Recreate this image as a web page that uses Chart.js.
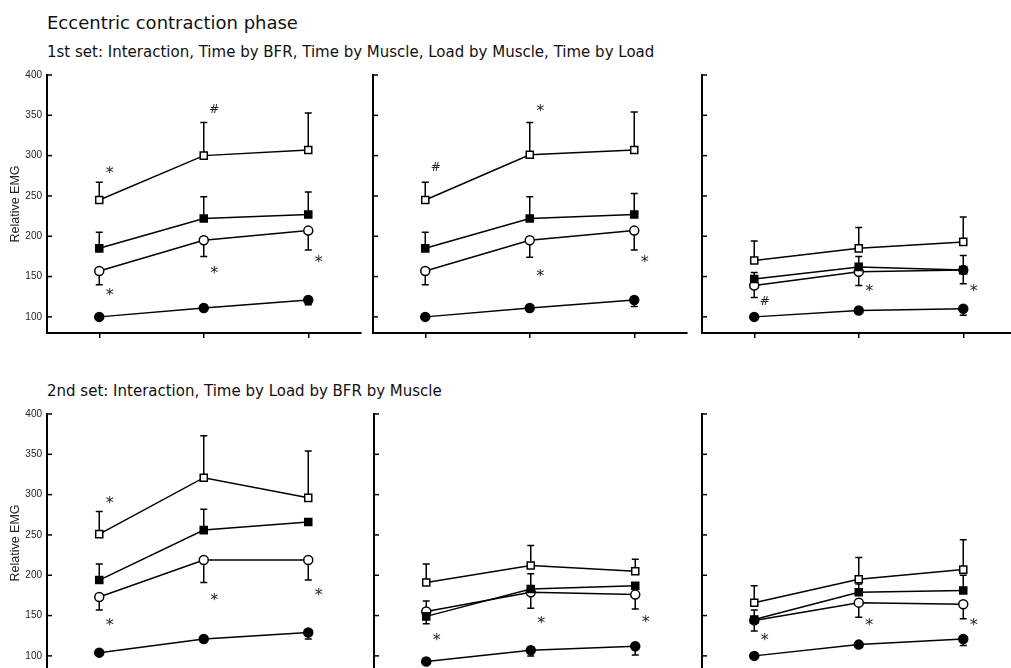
<!DOCTYPE html>
<html lang="en">
<head>
  <meta charset="UTF-8">
  <title>Eccentric contraction phase</title>
  <style>
    * {
      margin: 0;
      padding: 0;
      box-sizing: border-box;
    }

    html, body {
      width: 1011px;
      height: 668px;
      overflow: hidden;
      background: #fff;
    }

    body {
      position: relative;
      font-family: "DejaVu Sans", sans-serif;
      color: #111;
    }

    .title {
      position: absolute;
      left: 47px;
      top: 14px;
      font-size: 18px;
      line-height: 18px;
    }

    .sub {
      position: absolute;
      left: 47px;
      font-size: 15px;
      line-height: 15px;
    }

    canvas {
      position: absolute;
    }
  </style>
</head>
<body>
  <div class="title">Eccentric contraction phase</div>
  <div class="sub" style="top:45px">1st set: Interaction, Time by BFR, Time by Muscle, Load by Muscle, Time by Load</div>
  <div class="sub" style="top:384px">2nd set: Interaction, Time by Load by BFR by Muscle</div>

  <canvas id="p1"></canvas>
  <canvas id="p2"></canvas>
  <canvas id="p3"></canvas>
  <canvas id="p4"></canvas>
  <canvas id="p5"></canvas>
  <canvas id="p6"></canvas>

  <script src="https://cdn.jsdelivr.net/npm/chart.js"></script>
  <script>
    // time points (x labels are not printed in the figure)
    const timePoints = ['1', '2', '3'];
    const yTicks = [100, 150, 200, 250, 300, 350, 400];

    // 1st set, left panel
    const s1a_openSq = [245, 300, 307];
    const s1a_openSqSd = [22, 41, 46];
    const s1a_fillSq = [185, 222, 227];
    const s1a_fillSqSd = [20, 27, 28];
    const s1a_openCi = [157, 195, 207];
    const s1a_openCiSd = [17, 20, 24];
    const s1a_fillCi = [100, 111, 121];
    const s1a_fillCiSd = [0, 3, 6];

    // 1st set, middle panel
    const s1b_openSq = [245, 301, 307];
    const s1b_openSqSd = [22, 40, 47];
    const s1b_fillSq = [185, 222, 227];
    const s1b_fillSqSd = [20, 27, 26];
    const s1b_openCi = [157, 195, 207];
    const s1b_openCiSd = [17, 21, 24];
    const s1b_fillCi = [100, 111, 121];
    const s1b_fillCiSd = [0, 3, 8];

    // 1st set, right panel
    const s1c_openSq = [170, 185, 193];
    const s1c_openSqSd = [24, 26, 31];
    const s1c_fillSq = [147, 162, 158];
    const s1c_fillSqSd = [8, 13, 18];
    const s1c_openCi = [139, 156, 158];
    const s1c_openCiSd = [15, 17, 17];
    const s1c_fillCi = [100, 108, 110];
    const s1c_fillCiSd = [0, 2, 8];

    // 2nd set, left panel
    const s2a_openSq = [251, 321, 296];
    const s2a_openSqSd = [28, 52, 58];
    const s2a_fillSq = [194, 256, 266];
    const s2a_fillSqSd = [20, 26, 0];
    const s2a_openCi = [173, 219, 219];
    const s2a_openCiSd = [16, 28, 25];
    const s2a_fillCi = [104, 121, 129];
    const s2a_fillCiSd = [0, 3, 8];

    // 2nd set, middle panel
    const s2b_openSq = [191, 212, 205];
    const s2b_openSqSd = [23, 25, 15];
    const s2b_fillSq = [149, 183, 187];
    const s2b_fillSqSd = [19, 19, 0];
    const s2b_openCi = [155, 179, 176];
    const s2b_openCiSd = [15, 20, 18];
    const s2b_fillCi = [93, 107, 112];
    const s2b_fillCiSd = [0, 7, 11];

    // 2nd set, right panel
    const s2c_openSq = [166, 195, 207];
    const s2c_openSqSd = [21, 27, 37];
    const s2c_fillSq = [145, 179, 181];
    const s2c_fillSqSd = [12, 10, 19];
    const s2c_openCi = [144, 166, 164];
    const s2c_openCiSd = [13, 18, 18];
    const s2c_fillCi = [100, 114, 121];
    const s2c_fillCiSd = [0, 2, 8];

    // significance marks: [time index, value, symbol]
    const s1a_marks = [[0.1, 282, '*'], [1.1, 359, '#'], [0.1, 131, '*'], [1.1, 158, '*'], [2.1, 172, '*']];
    const s1b_marks = [[0.1, 286, '#'], [1.1, 359, '*'], [1.1, 155, '*'], [2.1, 172, '*']];
    const s1c_marks = [[0.1, 120, '#'], [1.1, 136, '*'], [2.1, 136, '*']];
    const s2a_marks = [[0.1, 293, '*'], [0.1, 142, '*'], [1.1, 173, '*'], [2.1, 179, '*']];
    const s2b_marks = [[0.1, 124, '*'], [1.1, 144, '*'], [2.1, 146, '*']];
    const s2c_marks = [[0.1, 124, '*'], [1.1, 142, '*'], [2.1, 142, '*']];

    // error bars, inward y ticks and the * / # marks
    const panelExtras = {
      id: 'panelExtras',
      beforeDatasetsDraw(chart) {
        const { ctx, scales: { x, y } } = chart;
        ctx.save();
        ctx.strokeStyle = '#000';
        ctx.lineWidth = 1.5;
        chart.data.datasets.forEach(ds => {
          ds.data.forEach((v, i) => {
            const sd = ds.sd[i];
            if (!sd) return;
            const px = x.getPixelForValue(i);
            const y0 = y.getPixelForValue(v);
            const y1 = y.getPixelForValue(v + ds.dir * sd);
            ctx.beginPath();
            ctx.moveTo(px, y0);
            ctx.lineTo(px, y1);
            ctx.moveTo(px - 3.5, y1);
            ctx.lineTo(px + 3.5, y1);
            ctx.stroke();
          });
        });
        ctx.restore();
      },
      afterDraw(chart, args, opts) {
        const { ctx, chartArea, scales: { x, y } } = chart;
        ctx.save();
        ctx.strokeStyle = '#000';
        ctx.lineWidth = 1.5;
        y.ticks.forEach(t => {
          const py = y.getPixelForValue(t.value);
          ctx.beginPath();
          ctx.moveTo(chartArea.left, py);
          ctx.lineTo(chartArea.left + 5, py);
          ctx.stroke();
        });

        ctx.fillStyle = '#222';
        ctx.textAlign = 'center';
        ctx.textBaseline = 'alphabetic';
        (opts.marks || []).forEach(m => {
          ctx.font = m[2] === '#' ? '12px "DejaVu Sans"' : '16px "DejaVu Sans"';
          const tm = ctx.measureText(m[2]);
          const shift = (tm.actualBoundingBoxAscent - tm.actualBoundingBoxDescent) / 2;
          ctx.fillText(m[2], x.getPixelForValue(m[0]), y.getPixelForValue(m[1]) + shift);
        });
        ctx.restore();
      }
    };

    function series(values, sd, dir, shape, filled) {
      return {
        data: values,
        sd: sd,
        dir: dir,
        borderColor: '#000',
        borderWidth: 1.5,
        pointStyle: shape,
        pointRadius: shape === 'rect' ? 5 : 4.5,
        pointBackgroundColor: filled ? '#000' : '#fff',
        pointBorderColor: '#000',
        pointBorderWidth: 1.5,
        tension: 0,
        fill: false
      };
    }

    const padTop = 14;
    const padBottom = 14;

    function makePanel(id, axisLeft, axisTop, showLabels, data, marks) {
      const yWidth = showLabels ? 47 : 10;
      const cv = document.getElementById(id);
      cv.width = yWidth + 320;
      cv.height = padTop + 258 + padBottom;
      cv.style.left = (axisLeft - yWidth) + 'px';
      cv.style.top = (axisTop - padTop) + 'px';

      new Chart(cv, {
        type: 'line',
        data: {
          labels: timePoints,
          datasets: [
            series(data[0], data[1], 1, 'rect', false),
            series(data[2], data[3], 1, 'rect', true),
            series(data[4], data[5], -1, 'circle', false),
            series(data[6], data[7], -1, 'circle', true)
          ]
        },
        options: {
          responsive: false,
          animation: false,
          events: [],
          layout: { padding: { top: padTop, left: 0, right: 0, bottom: 0 } },
          plugins: {
            legend: { display: false },
            tooltip: { enabled: false },
            panelExtras: { marks: marks }
          },
          scales: {
            x: {
              type: 'category',
              offset: true,
              grid: { drawOnChartArea: false, drawTicks: true, tickLength: 5, color: '#000', lineWidth: 1.5 },
              border: { color: '#000', width: 2 },
              ticks: { display: false },
              afterFit: s => { s.height = padBottom; }
            },
            y: {
              min: 80,
              max: 400,
              afterBuildTicks: s => { s.ticks = yTicks.map(v => ({ value: v })); },
              grid: { display: false, drawTicks: false },
              border: { color: '#000', width: 2 },
              ticks: {
                display: showLabels,
                padding: 5,
                color: '#222',
                font: { family: 'Liberation Sans', size: 10 }
              },
              title: {
                display: showLabels,
                text: 'Relative EMG',
                color: '#222',
                font: { family: 'Liberation Sans', size: 12.5 },
                padding: { top: 8, bottom: 0 }
              },
              afterFit: s => { s.width = yWidth; }
            }
          }
        },
        plugins: [panelExtras]
      });
    }

    makePanel('p1', 47, 75, true,
      [s1a_openSq, s1a_openSqSd, s1a_fillSq, s1a_fillSqSd, s1a_openCi, s1a_openCiSd, s1a_fillCi, s1a_fillCiSd], s1a_marks);
    makePanel('p2', 373, 75, false,
      [s1b_openSq, s1b_openSqSd, s1b_fillSq, s1b_fillSqSd, s1b_openCi, s1b_openCiSd, s1b_fillCi, s1b_fillCiSd], s1b_marks);
    makePanel('p3', 702, 75, false,
      [s1c_openSq, s1c_openSqSd, s1c_fillSq, s1c_fillSqSd, s1c_openCi, s1c_openCiSd, s1c_fillCi, s1c_fillCiSd], s1c_marks);
    makePanel('p4', 47, 414, true,
      [s2a_openSq, s2a_openSqSd, s2a_fillSq, s2a_fillSqSd, s2a_openCi, s2a_openCiSd, s2a_fillCi, s2a_fillCiSd], s2a_marks);
    makePanel('p5', 374, 414, false,
      [s2b_openSq, s2b_openSqSd, s2b_fillSq, s2b_fillSqSd, s2b_openCi, s2b_openCiSd, s2b_fillCi, s2b_fillCiSd], s2b_marks);
    makePanel('p6', 702, 414, false,
      [s2c_openSq, s2c_openSqSd, s2c_fillSq, s2c_fillSqSd, s2c_openCi, s2c_openCiSd, s2c_fillCi, s2c_fillCiSd], s2c_marks);
  </script>
</body>
</html>
